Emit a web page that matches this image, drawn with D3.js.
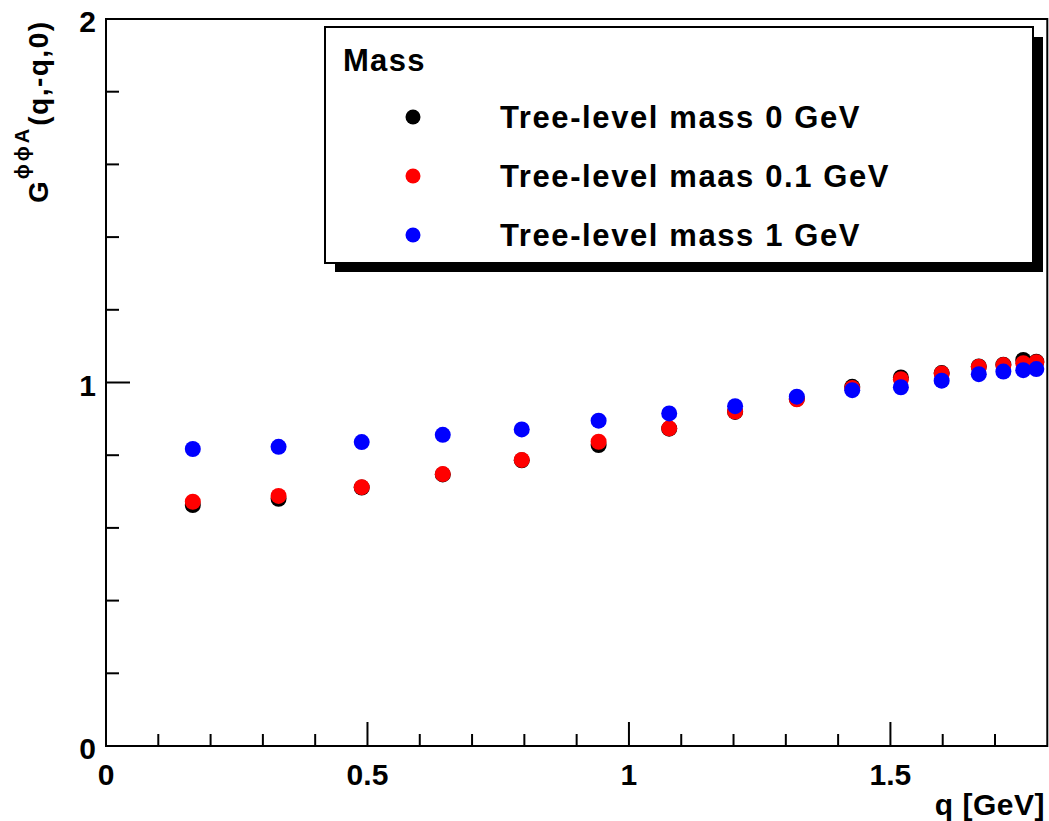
<!DOCTYPE html>
<html>
<head>
<meta charset="utf-8">
<script src="https://cdn.jsdelivr.net/npm/d3@7/dist/d3.min.js"></script>
<style>
  html, body { margin: 0; padding: 0; background: #fff; }
  svg { display: block; }
  text { font-family: "Liberation Sans", Arial, Helvetica, sans-serif; font-weight: bold; }
</style>
</head>
<body>
<svg id="chart" width="1049" height="821"></svg>
<script>
// ---- data ----
const qValues = [0.166, 0.330, 0.489, 0.644, 0.795, 0.942, 1.077, 1.203, 1.321, 1.427, 1.520, 1.598, 1.669, 1.716, 1.754, 1.779];
const mass0   = [0.663, 0.680, 0.711, 0.747, 0.786, 0.828, 0.873, 0.919, 0.955, 0.988, 1.014, 1.026, 1.044, 1.049, 1.062, 1.057];
const mass01  = [0.672, 0.688, 0.712, 0.748, 0.787, 0.837, 0.874, 0.920, 0.954, 0.985, 1.009, 1.025, 1.043, 1.048, 1.053, 1.056];
const mass1   = [0.817, 0.823, 0.836, 0.856, 0.871, 0.895, 0.915, 0.935, 0.961, 0.979, 0.987, 1.005, 1.023, 1.030, 1.034, 1.037];
const seriesNames = ["Tree-level mass 0 GeV", "Tree-level maas 0.1 GeV", "Tree-level mass 1 GeV"];
const seriesColors = ["#000000", "#ff0000", "#0000ff"];
const xMajorTicks = [0, 0.5, 1, 1.5];
const xTickLabels = ["0", "0.5", "1", "1.5"];
const yMajorTicks = [0, 1, 2];
const yTickLabels = ["0", "1", "2"];
const legendTitle = "Mass";
const xTitle = "q [GeV]";

const series = [mass0, mass01, mass1];

const svg = d3.select("#chart");
const pLeft = 106, pRight = 1047.3, pTop = 19, pBottom = 746;

const x = d3.scaleLinear().domain([0, 1.8]).range([pLeft, pRight]);
const y = d3.scaleLinear().domain([0, 2]).range([pBottom, pTop]);

// frame
svg.append("rect").attr("x", pLeft).attr("y", pTop)
  .attr("width", pRight - pLeft).attr("height", pBottom - pTop)
  .attr("fill", "none").attr("stroke", "#000").attr("stroke-width", 2);

// x axis ticks
const xMinor = d3.range(0, 18).map(i => i / 10);
svg.append("g").selectAll("line").data(xMinor).join("line")
  .attr("x1", d => x(d)).attr("x2", d => x(d))
  .attr("y1", pBottom).attr("y2", d => (Math.abs(d * 2 - Math.round(d * 2)) < 1e-6) ? pBottom - 24 : pBottom - 12)
  .attr("stroke", "#000").attr("stroke-width", 2);

svg.append("g").selectAll("text").data(xMajorTicks).join("text")
  .attr("x", d => x(d)).attr("y", 785)
  .attr("text-anchor", "middle").attr("font-size", 30)
  .text((d, i) => xTickLabels[i]);

svg.append("text").attr("x", 1045).attr("y", 815).attr("text-anchor", "end")
  .attr("font-size", 30).attr("letter-spacing", 0.5).text(xTitle);

// y axis ticks
const yMinor = d3.range(0, 11).map(i => i / 5);
svg.append("g").selectAll("line").data(yMinor).join("line")
  .attr("y1", d => y(d)).attr("y2", d => y(d))
  .attr("x1", pLeft).attr("x2", d => (Math.abs(d - Math.round(d)) < 1e-6) ? pLeft + 24 : pLeft + 13)
  .attr("stroke", "#000").attr("stroke-width", 2);

svg.append("g").selectAll("text").data(yMajorTicks).join("text")
  .attr("x", 96).attr("y", d => y(d) + 13)
  .attr("text-anchor", "end").attr("font-size", 30)
  .text((d, i) => yTickLabels[i]);

// y title
const yt = svg.append("text")
  .attr("transform", "translate(48,203) rotate(-90)")
  .attr("text-anchor", "start").attr("font-size", 28);
yt.append("tspan").attr("letter-spacing", 2).text("G");
yt.append("tspan").attr("font-size", 20).attr("letter-spacing", 3).attr("dy", -19).text("\u03D5\u03D5A");
yt.append("tspan").attr("dy", 19).attr("letter-spacing", 1.5).text("(q,-q,0)");

// points
const pts = [];
series.forEach((s, si) => s.forEach((v, i) => pts.push({ q: qValues[i], v: v, c: seriesColors[si] })));
svg.append("g").selectAll("circle").data(pts).join("circle")
  .attr("cx", d => x(d.q)).attr("cy", d => y(d.v)).attr("r", 8)
  .attr("fill", d => d.c);

// legend
const lg = svg.append("g");
lg.append("rect").attr("x", 335).attr("y", 37).attr("width", 708).attr("height", 235).attr("fill", "#000");
lg.append("rect").attr("x", 325).attr("y", 27).attr("width", 708).attr("height", 236)
  .attr("fill", "#fff").attr("stroke", "#000").attr("stroke-width", 2);
lg.append("text").attr("x", 343).attr("y", 71).attr("font-size", 31).attr("letter-spacing", 1.3).text(legendTitle);
const ly = [117, 176, 235];
seriesNames.forEach((n, i) => {
  lg.append("circle").attr("cx", 413).attr("cy", ly[i]).attr("r", 7.5).attr("fill", seriesColors[i]);
  lg.append("text").attr("x", 500).attr("y", ly[i] + 11).attr("font-size", 31).attr("letter-spacing", 1.6).text(n);
});
</script>
</body>
</html>
